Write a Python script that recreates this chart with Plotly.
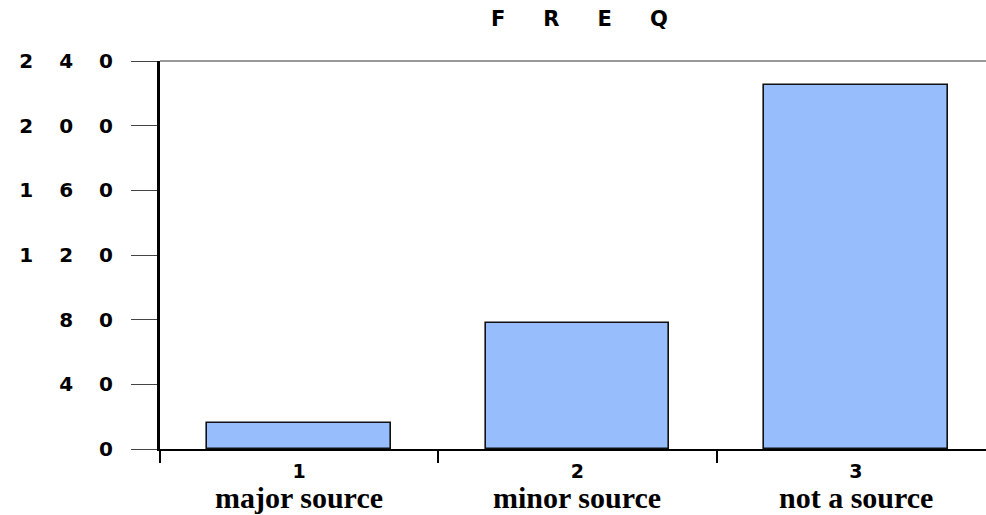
import plotly.graph_objects as go

codes = ["1", "2", "3"]
categories = ["major source", "minor source", "not a source"]
freq = [16, 78, 225]
y_ticks = [0, 40, 80, 120, 160, 200, 240]
title = "FREQ"

xpos = [1, 2, 3]

def wide(t, ls):
    # letter-spacing on all but the last glyph so no trailing gap is added
    if len(t) < 2:
        return t
    return f"<span style='letter-spacing:{ls}px'>{t[:-1]}</span>{t[-1]}"

fig = go.Figure()
fig.add_trace(go.Bar(
    x=xpos, y=freq, width=0.66,
    marker=dict(color="#97BDFD", line=dict(color="#111111", width=1.6)),
    showlegend=False,
))

fig.update_layout(
    width=986, height=515,
    margin=dict(l=160, r=0, t=61, b=66),
    paper_bgcolor="white", plot_bgcolor="white",
    bargap=0,
    xaxis=dict(
        range=[0.5, 3.468], showgrid=False, zeroline=False,
        showline=True, linecolor="black", linewidth=1.5,
        tickmode="array", tickvals=xpos,
        ticktext=codes,
        ticks="", ticklabelstandoff=4,
        tickfont=dict(family="DejaVu Sans", size=19, color="black", weight="bold"),
        minor=dict(tickmode="array", tickvals=[0.5, 1.5, 2.5, 3.5],
                   ticks="outside", ticklen=12, tickwidth=2, tickcolor="black"),
    ),
    yaxis=dict(
        range=[0, 240], showgrid=False, zeroline=False,
        showline=True, linecolor="black", linewidth=3,
        tickmode="array", tickvals=y_ticks,
        ticktext=[wide(str(v), 26) for v in y_ticks],
        ticks="outside", ticklen=26, tickwidth=1, tickcolor="#444444",
        ticklabelstandoff=14,
        tickfont=dict(family="DejaVu Sans", size=20, color="black", weight="bold"),
    ),
    shapes=[dict(type="line", xref="paper", yref="paper", x0=0, x1=1, y0=1, y1=1,
                 line=dict(color="#333333", width=1))],
)

fig.add_annotation(text=wide(title, 38), x=0.5, y=1.0, xref="paper", yref="paper",
                   xanchor="center", yanchor="middle", yshift=42, xshift=6,
                   showarrow=False,
                   font=dict(family="DejaVu Sans", size=21, color="black", weight="bold"))

for xv, name in zip(xpos, categories):
    fig.add_annotation(text=name, x=xv, y=-0.124, xref="x", yref="paper",
                       xanchor="center", yanchor="middle", showarrow=False,
                       font=dict(family="Liberation Serif", size=30, color="black",
                                 weight="bold"))

fig.write_html("out.html", config={"displayModeBar": False},
               post_script="document.body.style.margin='0';")
